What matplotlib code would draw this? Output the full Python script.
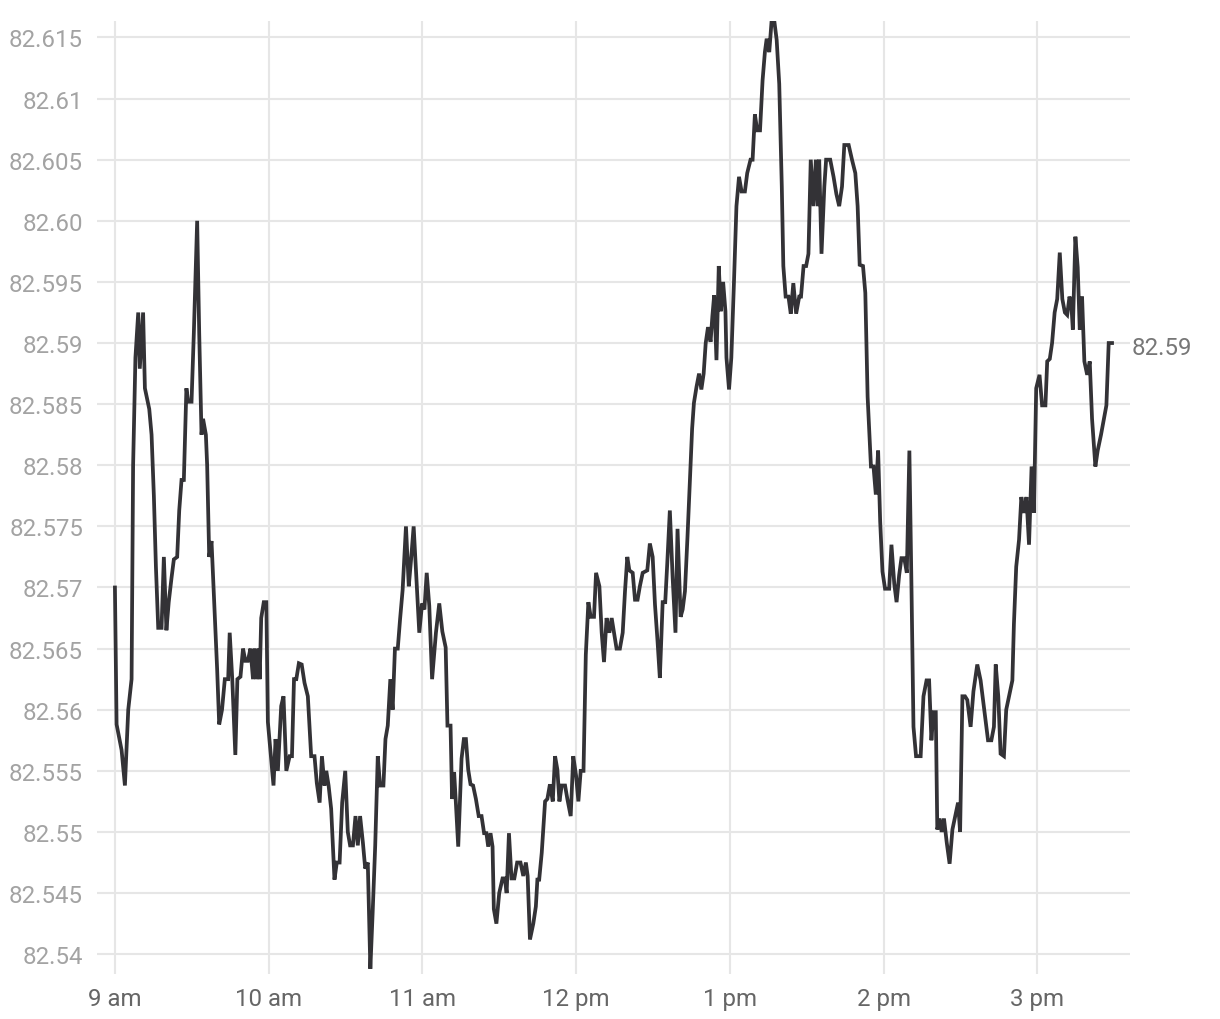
import matplotlib
matplotlib.use("Agg")
import matplotlib.pyplot as plt
import matplotlib.transforms as mtransforms

# minutes after 9:00 and price
minutes = [0, 0.65, 2.6, 3.9, 5.2, 6.5, 7.1, 8.0, 9.1, 9.7, 11.0, 11.7, 13.4, 14.3, 15.2, 16.0, 16.9, 18.2,
           19.1, 20.1, 21.0, 22.1, 23.0, 24.3, 25.1, 26.0, 26.9, 27.9, 28.6, 29.9, 30.8, 32.1, 32.9, 33.8,
           34.4, 35.5, 36.0, 36.8, 37.7, 39.0, 39.9, 40.7, 41.8, 42.9, 44.2, 44.8, 45.8, 47.0, 47.8, 49.0,
           50.0, 50.9, 51.9, 52.9, 53.9, 54.5, 55.2, 56.1, 56.5, 57.1, 58.1, 59.1, 59.7, 61.9, 62.7, 63.6,
           64.9, 65.8, 66.9, 68.2, 69.1, 69.9, 70.8, 71.8, 72.9, 74.0, 75.3, 76.6, 77.9, 78.8, 79.9, 80.8,
           81.8, 82.5, 83.4, 84.4, 85.7, 86.6, 87.7, 88.7, 89.9, 90.9, 91.8, 92.9, 93.9, 94.8, 95.7, 96.8,
           97.7, 98.7, 99.7, 100.6, 101.6, 102.6, 103.5, 104.8, 105.6, 106.5, 107.5, 108.4, 109.3, 110.4,
           111.3, 112.3, 113.6, 114.7, 115.6, 116.6, 117.5, 118.8, 119.9, 120.8, 121.7, 122.7, 123.8, 125.3,
           126.6, 127.8, 129.1, 129.8, 131.0, 131.6, 132.4, 133.0, 134.0, 135.3, 136.2, 137.0, 137.9, 138.8,
           139.8, 140.9, 142.0, 143.1, 144.1, 145.0, 145.7, 146.6, 147.4, 147.9, 148.9, 150.0, 151.3, 152.2,
           152.9, 153.8, 154.8, 155.9, 157.0, 158.3, 159.4, 160.4, 161.1, 162.0, 163.3, 164.3, 164.9, 165.6,
           166.6, 167.9, 168.8, 169.8, 170.9, 171.8, 172.7, 173.5, 174.4, 175.7, 176.6, 177.9, 178.9, 180.0,
           180.9, 181.8, 182.9, 183.8, 184.8, 185.7, 187.0, 187.8, 189.1, 190.0, 190.9, 191.9, 193.0, 193.9,
           194.8, 195.8, 197.1, 198.2, 199.1, 200.0, 200.8, 202.1, 203.0, 204.0, 204.9, 206.0, 207.8, 208.8,
           209.9, 210.8, 211.8, 212.7, 213.8, 214.8, 215.6, 216.6, 217.7, 218.8, 219.6, 220.8, 221.6, 222.5,
           223.5, 224.4, 225.3, 226.0, 227.0, 228.0, 228.9, 229.8, 230.6, 231.5, 232.5, 233.2, 233.9, 234.8,
           235.7, 236.5, 237.4, 238.3, 238.7, 239.7, 240.6, 241.6, 242.6, 243.6, 244.6, 245.9, 246.8, 248.1,
           248.9, 249.8, 250.7, 251.8, 252.8, 253.7, 254.4, 255.4, 256.3, 257.4, 258.3, 259.3, 260.3, 260.9,
           261.8, 262.9, 263.8, 264.8, 265.9, 267.1, 267.8, 268.8, 269.8, 270.7, 271.6, 272.7, 273.6, 274.4,
           274.9, 275.8, 276.9, 277.6, 279.2, 280.5, 281.6, 282.7, 283.8, 284.7, 286.4, 287.7, 289.0, 289.9,
           290.7, 292.0, 292.9, 293.8, 295.1, 296.1, 297.0, 297.9, 298.7, 299.6, 300.6, 302.2, 303.1, 304.2,
           305.1, 306.1, 307.0, 308.1, 309.1, 310.1, 310.9, 311.7, 312.7, 314.5, 315.6, 316.8, 317.8, 318.7,
           319.5, 320.4, 321.0, 321.9, 322.7, 323.6, 324.7, 325.8, 326.9, 328.2, 329.1, 329.9, 330.8, 331.8,
           332.7, 334.0, 335.1, 336.6, 337.9, 339.5, 340.8, 342.1, 343.1, 343.8, 344.8, 345.7, 347.0, 347.9,
           349.2, 350.3, 350.9, 351.8, 352.9, 353.8, 354.8, 355.8, 356.8, 357.8, 358.7, 359.6, 360.9, 361.9,
           363.2, 363.9, 364.9, 365.8, 366.8, 367.8, 368.8, 369.8, 370.8, 371.7, 372.6, 373.3, 373.9, 374.9,
           375.8, 376.6, 377.5, 378.4, 379.5, 380.5, 381.4, 382.7, 383.6, 384.9, 387.0, 387.9, 389.2]

price = [82.5700, 82.5588, 82.5567, 82.5538, 82.5600, 82.5625, 82.5800, 82.5888, 82.5925, 82.5879, 82.5925,
         82.5863, 82.5846, 82.5825, 82.5775, 82.5717, 82.5667, 82.5667, 82.5725, 82.5665, 82.5688, 82.5708,
         82.5723, 82.5725, 82.5763, 82.5788, 82.5788, 82.5863, 82.5852, 82.5852, 82.5908, 82.6000, 82.5908,
         82.5825, 82.5838, 82.5825, 82.5800, 82.5725, 82.5738, 82.5675, 82.5633, 82.5588, 82.5600, 82.5625,
         82.5625, 82.5663, 82.5625, 82.5563, 82.5625, 82.5627, 82.5650, 82.5640, 82.5640, 82.5650, 82.5625,
         82.5650, 82.5625, 82.5650, 82.5625, 82.5675, 82.5688, 82.5688, 82.5590, 82.5538, 82.5576, 82.5550,
         82.5603, 82.5611, 82.5550, 82.5562, 82.5562, 82.5625, 82.5625, 82.5638, 82.5637, 82.5622, 82.5611,
         82.5562, 82.5562, 82.5540, 82.5524, 82.5562, 82.5538, 82.5550, 82.5538, 82.5519, 82.5461, 82.5475,
         82.5475, 82.5524, 82.5550, 82.5500, 82.5489, 82.5489, 82.5513, 82.5489, 82.5513, 82.5491, 82.5470,
         82.5475, 82.5388, 82.5434, 82.5489, 82.5562, 82.5538, 82.5538, 82.5576, 82.5587, 82.5625, 82.5600,
         82.5650, 82.5650, 82.5674, 82.5698, 82.5750, 82.5701, 82.5723, 82.5750, 82.5715, 82.5663, 82.5687,
         82.5682, 82.5712, 82.5685, 82.5625, 82.5663, 82.5687, 82.5664, 82.5651, 82.5587, 82.5587, 82.5527,
         82.5549, 82.5527, 82.5488, 82.5560, 82.5576, 82.5576, 82.5551, 82.5539, 82.5538, 82.5527, 82.5513,
         82.5513, 82.5499, 82.5499, 82.5488, 82.5499, 82.5488, 82.5437, 82.5425, 82.5450, 82.5462, 82.5462,
         82.5450, 82.5499, 82.5462, 82.5462, 82.5475, 82.5475, 82.5464, 82.5475, 82.5464, 82.5412, 82.5425,
         82.5439, 82.5461, 82.5461, 82.5483, 82.5525, 82.5527, 82.5539, 82.5525, 82.5562, 82.5551, 82.5525,
         82.5538, 82.5538, 82.5527, 82.5513, 82.5562, 82.5546, 82.5525, 82.5550, 82.5550, 82.5645, 82.5688,
         82.5676, 82.5676, 82.5712, 82.5701, 82.5663, 82.5639, 82.5675, 82.5663, 82.5675, 82.5663, 82.5650,
         82.5650, 82.5663, 82.5697, 82.5725, 82.5714, 82.5712, 82.5690, 82.5690, 82.5701, 82.5712, 82.5714,
         82.5736, 82.5725, 82.5686, 82.5656, 82.5626, 82.5688, 82.5688, 82.5720, 82.5763, 82.5708, 82.5663,
         82.5748, 82.5676, 82.5682, 82.5697, 82.5742, 82.5787, 82.5830, 82.5851, 82.5864, 82.5875, 82.5862,
         82.5875, 82.5900, 82.5913, 82.5901, 82.5922, 82.5939, 82.5886, 82.5963, 82.5926, 82.5950, 82.5926,
         82.5888, 82.5862, 82.5888, 82.5948, 82.6012, 82.6036, 82.6024, 82.6024, 82.6039, 82.6050, 82.6050,
         82.6087, 82.6074, 82.6074, 82.6115, 82.6138, 82.6149, 82.6138, 82.6163, 82.6163, 82.6148, 82.6112,
         82.6028, 82.5963, 82.5938, 82.5938, 82.5924, 82.5949, 82.5924, 82.5938, 82.5938, 82.5963, 82.5963,
         82.5973, 82.6050, 82.6012, 82.6050, 82.6012, 82.6050, 82.5973, 82.6028, 82.6050, 82.6050, 82.6036,
         82.6022, 82.6012, 82.6028, 82.6062, 82.6062, 82.6050, 82.6039, 82.6012, 82.5964, 82.5963, 82.5941,
         82.5856, 82.5799, 82.5799, 82.5776, 82.5812, 82.5754, 82.5713, 82.5699, 82.5699, 82.5735, 82.5703,
         82.5688, 82.5710, 82.5724, 82.5724, 82.5712, 82.5812, 82.5703, 82.5586, 82.5562, 82.5562, 82.5611,
         82.5624, 82.5624, 82.5575, 82.5598, 82.5598, 82.5502, 82.5511, 82.5500, 82.5511, 82.5491, 82.5474,
         82.5502, 82.5515, 82.5524, 82.5500, 82.5611, 82.5611, 82.5608, 82.5586, 82.5615, 82.5637, 82.5624,
         82.5597, 82.5575, 82.5575, 82.5586, 82.5637, 82.5611, 82.5564, 82.5562, 82.5600, 82.5613, 82.5624,
         82.5670, 82.5717, 82.5739, 82.5774, 82.5761, 82.5774, 82.5735, 82.5799, 82.5761, 82.5863, 82.5874,
         82.5849, 82.5849, 82.5885, 82.5887, 82.5900, 82.5925, 82.5936, 82.5974, 82.5936, 82.5925, 82.5923,
         82.5938, 82.5932, 82.5911, 82.5987, 82.5962, 82.5911, 82.5938, 82.5885, 82.5874, 82.5885, 82.5838,
         82.5799, 82.5812, 82.5825, 82.5849, 82.5900, 82.5900]

y_ticks = [82.54, 82.545, 82.55, 82.555, 82.56, 82.565, 82.57, 82.575, 82.58, 82.585, 82.59,
           82.595, 82.60, 82.605, 82.61, 82.615]
y_labels = ["82.54", "82.545", "82.55", "82.555", "82.56", "82.565", "82.57", "82.575", "82.58",
            "82.585", "82.59", "82.595", "82.60", "82.605", "82.61", "82.615"]
x_ticks = [0, 60, 120, 180, 240, 300, 360]
x_labels = ["9 am", "10 am", "11 am", "12 pm", "1 pm", "2 pm", "3 pm"]
last_label = "82.59"

plt.rcParams['font.family'] = ['Roboto', 'DejaVu Sans']

fig = plt.figure(figsize=(12.2, 10.2), dpi=100)
ax = fig.add_axes([0.0795, 0.044, 0.8467, 0.934])

ax.plot(minutes, price, color="#333236", linewidth=2.7, solid_joinstyle="miter", zorder=3)

ax.set_xlim(-7.0, 396.2)
ax.set_ylim(82.53837, 82.61631)
ax.set_xticks(x_ticks)
ax.set_xticklabels(x_labels)
ax.set_yticks(y_ticks)
ax.set_yticklabels(y_labels)

ax.grid(True, color="#e6e6e6", linewidth=1.5)
ax.set_axisbelow(True)
for s in ax.spines.values():
    s.set_visible(False)
ax.tick_params(axis="y", length=0, pad=10, labelsize=17.3, labelcolor="#a3a3a3")
ax.tick_params(axis="x", length=0, pad=9, labelsize=17.3, labelcolor="#666666")

# last value label at the right edge
trans = mtransforms.blended_transform_factory(ax.transAxes, ax.transData)
ax.annotate(last_label, xy=(1.0, price[-1]), xycoords=trans, xytext=(1, -3),
            textcoords="offset points", ha="left", va="center",
            fontsize=17.3, color="#777777")

fig.savefig("out.png", dpi=100)
